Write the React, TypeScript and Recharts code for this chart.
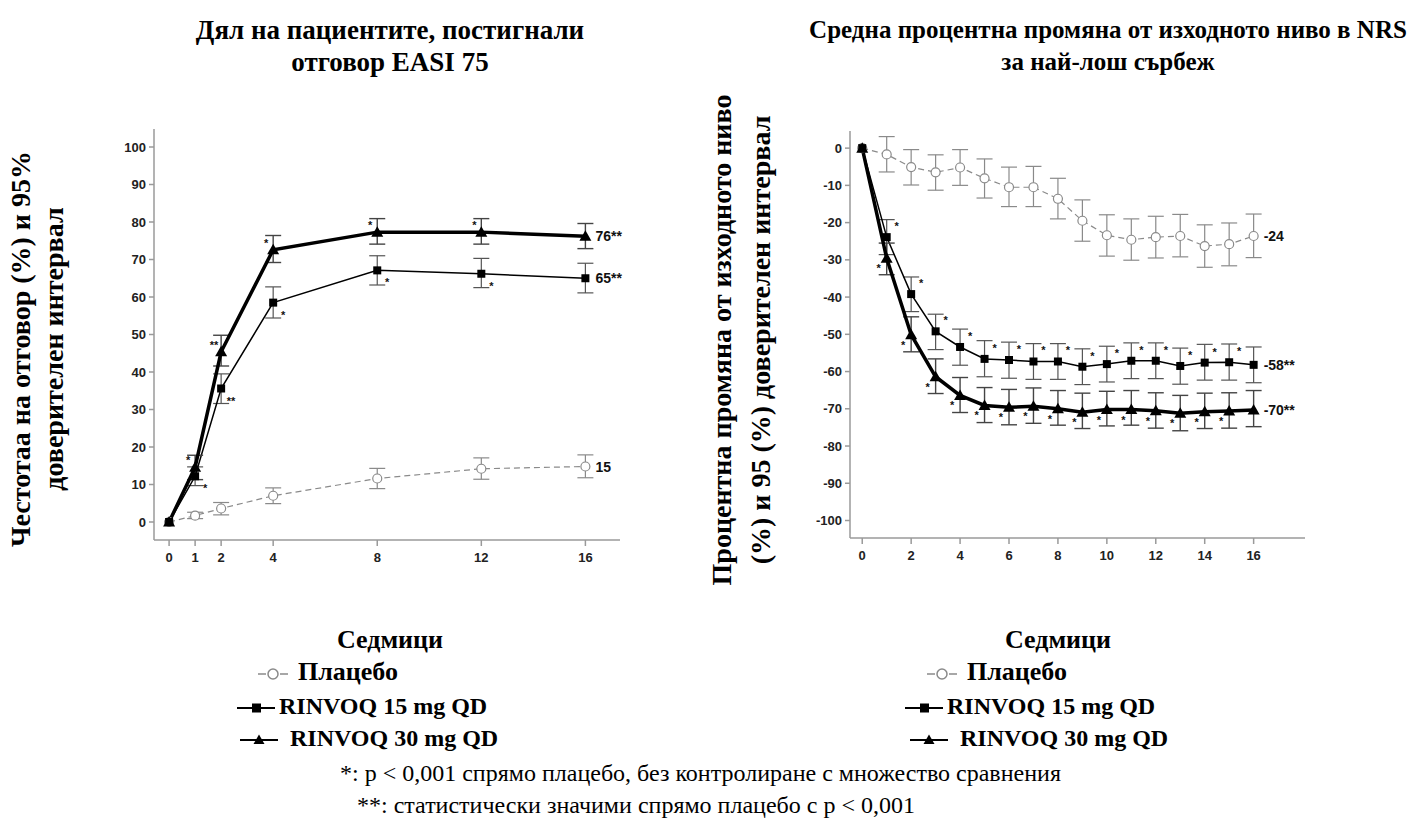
import React from "react";
import { LineChart, Line, XAxis, YAxis, ErrorBar, LabelList } from "recharts";

// ---- EASI 75 (left panel) ----
const easiWeeks = [0, 1, 2, 4, 8, 12, 16];
const easiPlacebo = [0, 1.7, 3.6, 7.0, 11.6, 14.2, 14.8];
const easiPlaceboLo = [null, 0.9, 1.9, 4.9, 8.9, 11.4, 11.8];
const easiPlaceboHi = [null, 2.6, 5.2, 9.1, 14.3, 17.1, 17.9];
const easi15 = [0, 12.2, 35.6, 58.5, 67.1, 66.2, 65.0];
const easi15Lo = [null, 9.7, 31.6, 54.4, 63.2, 62.5, 61.1];
const easi15Hi = [null, 14.7, 39.5, 62.7, 71.0, 70.3, 69.0];
const easi30 = [0, 14.6, 45.4, 72.6, 77.3, 77.3, 76.2];
const easi30Lo = [null, 11.3, 41.6, 69.2, 74.1, 74.1, 72.9];
const easi30Hi = [null, 17.8, 49.8, 76.4, 80.9, 80.9, 79.6];
const easi15Stars = ["", "*", "**", "*", "*", "*", ""];
const easi30Stars = ["", "*", "**", "*", "*", "*", ""];
const easiEndLabels = ["15", "65**", "76**"];
const easiYTicks = [0, 10, 20, 30, 40, 50, 60, 70, 80, 90, 100];

// ---- NRS itch (right panel) ----
const nrsWeeks = [0, 1, 2, 3, 4, 5, 6, 7, 8, 9, 10, 11, 12, 13, 14, 15, 16];
const nrsPlacebo = [0, -1.7, -5.1, -6.5, -5.2, -8.1, -10.5, -10.5, -13.6, -19.5, -23.4, -24.6, -23.9, -23.6, -26.3, -25.8, -23.6];
const nrsPlaceboHi = [null, 3.1, -0.4, -1.8, -0.4, -2.9, -5.1, -4.9, -8.1, -13.9, -17.9, -19.0, -18.3, -17.8, -20.6, -20.1, -17.7];
const nrsPlaceboLo = [null, -6.4, -9.9, -11.3, -10.0, -13.4, -15.7, -15.7, -19.0, -25.0, -29.0, -30.1, -29.5, -29.2, -32.0, -31.6, -29.4];
const nrs15 = [0, -23.9, -39.2, -49.2, -53.4, -56.6, -56.9, -57.3, -57.3, -58.7, -58.0, -57.1, -57.1, -58.5, -57.6, -57.5, -58.2];
const nrs15Hi = [null, -19.2, -34.6, -44.6, -48.6, -51.7, -52.1, -52.5, -52.5, -53.9, -53.2, -52.3, -52.3, -53.7, -52.7, -52.6, -53.4];
const nrs15Lo = [null, -28.6, -43.9, -54.1, -58.3, -61.4, -61.8, -62.1, -62.1, -63.5, -62.8, -61.9, -61.9, -63.4, -62.3, -62.3, -63.0];
const nrs30 = [0, -29.6, -50.1, -61.4, -66.4, -69.1, -69.6, -69.3, -70.0, -70.9, -70.2, -70.2, -70.5, -71.2, -70.8, -70.6, -70.3];
const nrs30Hi = [null, -25.5, -45.3, -56.6, -61.6, -64.3, -64.8, -64.4, -65.1, -65.8, -65.3, -65.1, -65.7, -66.4, -65.8, -65.7, -65.1];
const nrs30Lo = [null, -34.0, -54.7, -65.9, -71.0, -73.7, -74.3, -73.9, -74.4, -75.3, -74.6, -74.4, -75.2, -75.9, -75.3, -75.2, -74.8];
const nrs15Stars = ["", "*", "*", "*", "*", "*", "*", "*", "*", "*", "*", "*", "*", "*", "*", "*", ""];
const nrs30Stars = ["", "*", "*", "*", "*", "*", "*", "*", "*", "*", "*", "*", "*", "*", "*", "*", ""];
const nrsEndLabels = ["-24", "-58**", "-70**"];
const nrsXTicks = [0, 2, 4, 6, 8, 10, 12, 14, 16];
const nrsYTicks = [0, -10, -20, -30, -40, -50, -60, -70, -80, -90, -100];

const err = (v: number, lo: (number | null)[], hi: (number | null)[], i: number) =>
  lo[i] == null || hi[i] == null ? null : [v - (lo[i] as number), (hi[i] as number) - v];

function buildRows(
  weeks: number[],
  p: number[], pLo: (number | null)[], pHi: (number | null)[],
  a: number[], aLo: (number | null)[], aHi: (number | null)[],
  b: number[], bLo: (number | null)[], bHi: (number | null)[],
  aStars: string[], bStars: string[], ends: string[]
) {
  const last = weeks.length - 1;
  return weeks.map((w, i) => ({
    week: w,
    placebo: p[i],
    r15: a[i],
    r30: b[i],
    errP: err(p[i], pLo, pHi, i),
    err15: err(a[i], aLo, aHi, i),
    err30: err(b[i], bLo, bHi, i),
    s15: aStars[i],
    s30: bStars[i],
    endP: i === last ? ends[0] : "",
    end15: i === last ? ends[1] : "",
    end30: i === last ? ends[2] : "",
  }));
}

const easiRows = buildRows(easiWeeks, easiPlacebo, easiPlaceboLo, easiPlaceboHi, easi15, easi15Lo, easi15Hi, easi30, easi30Lo, easi30Hi, easi15Stars, easi30Stars, easiEndLabels);
const nrsRows = buildRows(nrsWeeks, nrsPlacebo, nrsPlaceboLo, nrsPlaceboHi, nrs15, nrs15Lo, nrs15Hi, nrs30, nrs30Lo, nrs30Hi, nrs15Stars, nrs30Stars, nrsEndLabels);

const GREY = "#8a8a8a";
const AXIS = "#9a9a9a";
const tickStyle = { fontFamily: "Liberation Sans, Arial", fontWeight: 700, fontSize: 13, fill: "#222" };

const circleDot = (p: any) =>
  p.cx == null ? null : <circle key={p.index} cx={p.cx} cy={p.cy} r={4.5} fill="#fff" stroke={GREY} strokeWidth={1.2} />;
const squareDot = (p: any) =>
  p.cx == null ? null : <rect key={p.index} x={p.cx - 4} y={p.cy - 4} width={8} height={8} fill="#000" />;
const triDot = (p: any) =>
  p.cx == null ? null : (
    <path key={p.index} d={`M${p.cx},${p.cy - 6} L${p.cx + 6},${p.cy + 4.5} L${p.cx - 6},${p.cy + 4.5} Z`} fill="#000" />
  );

const textAt = (dx: number, dy: number, size: number, anchor: "start" | "middle" = "middle") => (p: any) => {
  if (!p.value) return null;
  return (
    <text
      key={p.index}
      x={p.x + dx}
      y={p.y + dy}
      textAnchor={anchor}
      dominantBaseline="central"
      fontFamily="Liberation Sans, Arial"
      fontWeight={700}
      fontSize={size}
      fill="#111"
    >
      {p.value}
    </text>
  );
};

type PanelProps = {
  rows: any[];
  left: number;
  width: number;
  height: number;
  top: number;
  xDomain: [number, number];
  yDomain: [number, number];
  xTicks: number[];
  yTicks: number[];
  s15: [number, number];
  s30: [number, number];
};

const EXTRA = 40; // room right of the plot for the end labels

function Panel({ rows, left, width, height, top, xDomain, yDomain, xTicks, yTicks, s15, s30 }: PanelProps) {
  return (
    <div style={{ position: "absolute", left, top: 0 }}>
      <LineChart width={width + EXTRA} height={height} data={rows} margin={{ top, right: EXTRA, bottom: 0, left: 0 }}>
        <XAxis
          dataKey="week"
          type="number"
          domain={xDomain}
          ticks={xTicks}
          allowDataOverflow
          height={40}
          stroke={AXIS}
          strokeWidth={1.5}
          tickSize={6}
          tickMargin={7}
          tick={tickStyle}
        />
        <YAxis
          type="number"
          domain={yDomain}
          ticks={yTicks}
          allowDataOverflow
          width={50}
          stroke={AXIS}
          strokeWidth={1.5}
          tickSize={5}
          tickMargin={3}
          tick={tickStyle}
        />
        <Line
          dataKey="placebo"
          stroke={GREY}
          strokeWidth={1.2}
          strokeDasharray="6 4"
          dot={circleDot}
          isAnimationActive={false}
        >
          <ErrorBar dataKey="errP" width={8} stroke={GREY} strokeWidth={1.2} direction="y" />
          <LabelList dataKey="endP" content={textAt(10, 0, 14, "start")} />
        </Line>
        <Line dataKey="r15" stroke="#000" strokeWidth={1.5} dot={squareDot} isAnimationActive={false}>
          <ErrorBar dataKey="err15" width={8} stroke="#555" strokeWidth={1.2} direction="y" />
          <LabelList dataKey="s15" content={textAt(s15[0], s15[1], 11)} />
          <LabelList dataKey="end15" content={textAt(10, 0, 14, "start")} />
        </Line>
        <Line dataKey="r30" stroke="#000" strokeWidth={3.5} dot={triDot} isAnimationActive={false}>
          <ErrorBar dataKey="err30" width={8} stroke="#444" strokeWidth={1.4} direction="y" />
          <LabelList dataKey="s30" content={textAt(s30[0], s30[1], 11)} />
          <LabelList dataKey="end30" content={textAt(10, 0, 14, "start")} />
        </Line>
      </LineChart>
    </div>
  );
}

const serif = "'Liberation Serif', 'Times New Roman', serif";

function Txt({ x, y, children, size = 24, bold = true, align = "center" }: any) {
  const style: React.CSSProperties = {
    position: "absolute",
    top: y - 16,
    left: x,
    lineHeight: "32px",
    fontFamily: serif,
    fontWeight: bold ? 700 : 400,
    fontSize: size,
    whiteSpace: "nowrap",
    color: "#000",
  };
  if (align === "center") style.transform = "translateX(-50%)";
  return <div style={style}>{children}</div>;
}

function VLabel({ x, y, lines, gap, size }: { x: number; y: number; lines: string[]; gap: number; size: number }) {
  return (
    <div
      style={{
        position: "absolute",
        left: x,
        top: y,
        transform: "translate(-50%, -50%) rotate(-90deg)",
        fontFamily: serif,
        fontWeight: 700,
        fontSize: size,
        lineHeight: `${gap}px`,
        textAlign: "center",
        whiteSpace: "nowrap",
      }}
    >
      {lines.map((l) => (
        <div key={l}>{l}</div>
      ))}
    </div>
  );
}

function Sym({ kind }: { kind: "p" | "s" | "t" }) {
  if (kind === "p") {
    return (
      <svg width={34} height={14} style={{ marginRight: 8, verticalAlign: "middle" }}>
        <g stroke={GREY} strokeWidth={1.5} fill="#fff">
          <line x1={2} y1={7} x2={10} y2={7} />
          <line x1={24} y1={7} x2={32} y2={7} />
          <circle cx={17} cy={7} r={5} />
        </g>
      </svg>
    );
  }
  return (
    <svg width={38} height={14} style={{ marginRight: kind === "t" ? 12 : 4, verticalAlign: "middle" }}>
      <line x1={0} y1={7} x2={38} y2={7} stroke="#000" strokeWidth={2} />
      {kind === "s" ? (
        <rect x={15} y={2.5} width={9} height={9} fill="#000" />
      ) : (
        <path d="M19,1.5 L24.5,11 L13.5,11 Z" fill="#000" />
      )}
    </svg>
  );
}

function Legend({ cx, px, sx, tx }: { cx: number; px: number; sx: number; tx: number }) {
  return (
    <>
      <Txt x={cx} y={640} size={26}>Седмици</Txt>
      <Txt x={px} y={672} align="left" size={26}><Sym kind="p" />Плацебо</Txt>
      <Txt x={sx} y={706} align="left"><Sym kind="s" />RINVOQ 15 mg QD</Txt>
      <Txt x={tx} y={738} align="left"><Sym kind="t" />RINVOQ 30 mg QD</Txt>
    </>
  );
}

export default function App() {
  return (
    <div style={{ position: "absolute", left: 0, top: 0, width: 1419, height: 825, background: "#fff", overflow: "hidden" }}>
      <Txt x={390} y={30} size={27}>Дял на пациентите, постигнали</Txt>
      <Txt x={390} y={62} size={27}>отговор EASI 75</Txt>
      <Txt x={1108} y={30} size={25}>Средна процентна промяна от изходното ниво в NRS</Txt>
      <Txt x={1108} y={62} size={25}>за най-лош сърбеж</Txt>

      <VLabel x={37} y={349} gap={33} size={28} lines={["Честотаа на отговор (%) и 95%", "доверителен интервал"]} />
      <VLabel x={741} y={340} gap={39} size={28} lines={["Процентна промяна от изходното ниво", "(%) и 95 (%) доверителен интервал"]} />

      <Panel
        rows={easiRows}
        left={104}
        width={516}
        height={580}
        top={129}
        xDomain={[-0.58, 17.33]}
        yDomain={[-4.8, 104.8]}
        xTicks={easiWeeks}
        yTicks={easiYTicks}
        s15={[10, 12]}
        s30={[-7, -7]}
      />
      <Panel
        rows={nrsRows}
        left={800}
        width={505}
        height={578}
        top={131}
        xDomain={[-0.5, 18.1]}
        yDomain={[-104.7, 4.6]}
        xTicks={nrsXTicks}
        yTicks={nrsYTicks}
        s15={[10, -11]}
        s30={[-8, 10]}
      />

      <Legend cx={390} px={256} sx={237} tx={240} />
      <Legend cx={1058} px={925} sx={905} tx={910} />

      <Txt x={340} y={773} size={24} bold={false} align="left">*: p &lt; 0,001 спрямо плацебо, без контролиране с множество сравнения</Txt>
      <Txt x={357} y={805} size={24} bold={false} align="left">**: статистически значими спрямо плацебо с p &lt; 0,001</Txt>
    </div>
  );
}
